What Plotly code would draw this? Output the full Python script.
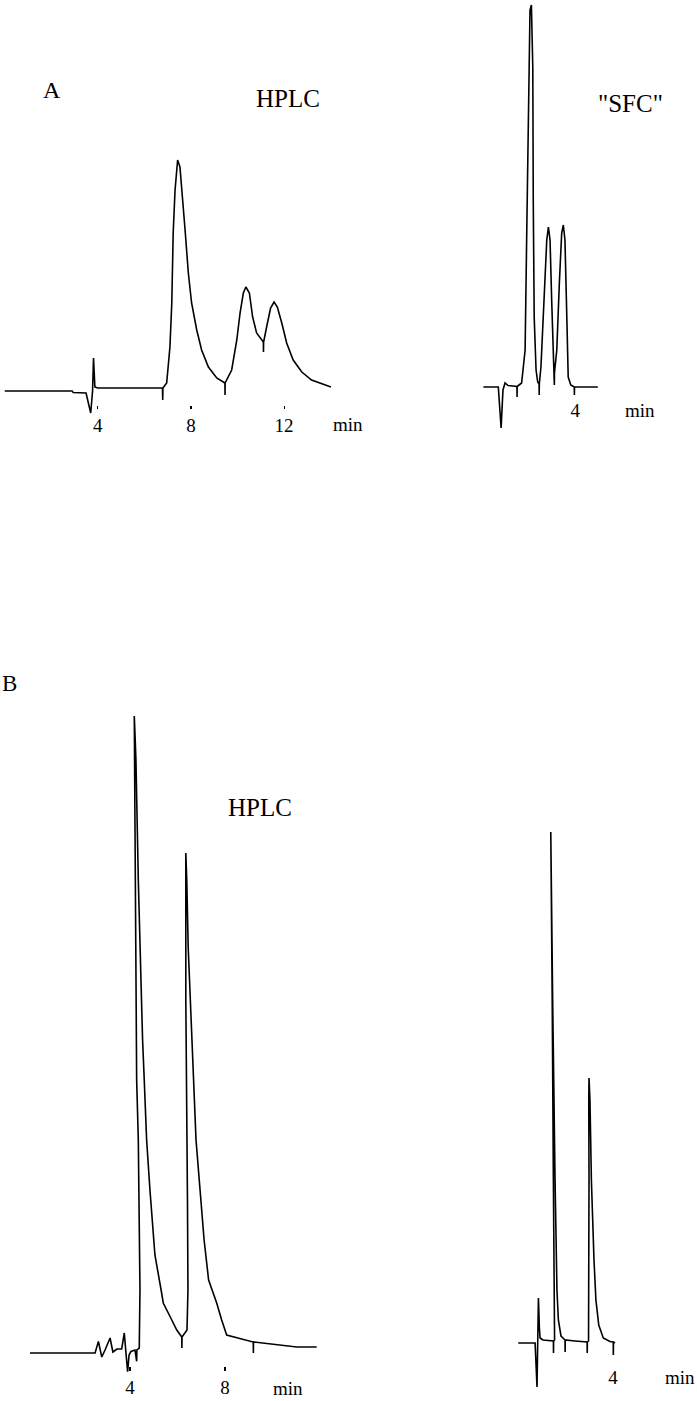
import plotly.graph_objects as go

# ---------------- data (time in min, detector signal in arbitrary units) ----------------
a_hplc_t = [0.00, 2.90, 2.95, 3.50, 3.70, 3.78, 3.82, 3.88, 4.00, 6.78, 6.79, 6.80,
            6.96, 7.10, 7.18, 7.24, 7.32, 7.43, 7.53, 7.65, 7.75, 7.89, 8.03, 8.25, 8.46,
            8.75, 9.11, 9.46, 9.465, 9.47, 9.75, 9.97, 10.11, 10.25, 10.36, 10.51, 10.65,
            10.82, 11.11, 11.115, 11.12, 11.25, 11.42, 11.57, 11.71, 11.90, 12.11, 12.39,
            12.76, 13.18, 13.61, 14.01]
a_hplc_s = [-2, -2, -3.5, -4, -24, -2, 31, 2, 1, 1, -11, 1,
            6, 42, 86, 156, 199, 229, 222, 192, 159, 116, 86, 59, 39,
            22, 11, 6, -6, 6, 19, 49, 76, 96, 102, 96, 72,
            56, 47, 37, 47, 62, 81, 87, 82, 66, 46, 29,
            17, 9, 5, 2]

a_sfc_t = [0.06, 0.70, 0.82, 0.90, 0.99, 1.12, 1.50, 1.505, 1.51, 1.70, 1.85, 1.92, 1.99,
           2.06, 2.12, 2.18, 2.20, 2.24, 2.32, 2.39, 2.45, 2.455, 2.46, 2.53, 2.66, 2.78,
           2.85, 2.92, 2.99, 3.06, 3.10, 3.105, 3.11, 3.21, 3.32, 3.42, 3.49, 3.56, 3.64,
           3.70, 3.81, 3.96, 3.965, 3.97, 4.97]
a_sfc_s = [0, 0, -41, -3, 4, 1.5, 0.5, -10, 0.5, 4, 37, 154, 287,
           377, 382, 320, 187, 70, 17, 5, 3, -8, 3, 20, 87, 147,
           160, 147, 87, 27, 14, 2, 14, 37, 104, 154, 162, 147, 70,
           10, 2, 0, -8, 0, 0]

b_hplc_t = [-0.21, 2.53, 2.67, 2.81, 2.95, 3.16, 3.28, 3.45, 3.65, 3.76, 3.83, 3.90, 3.96,
            4.04, 4.21, 4.28, 4.29, 4.39, 4.42, 4.40, 4.35, 4.28, 4.21, 4.18,
            4.22, 4.25, 4.35, 4.45, 4.53, 4.60, 4.70, 4.84, 5.05, 5.31, 5.40, 5.76, 5.97,
            6.18, 6.185, 6.19, 6.40, 6.44, 6.42, 6.39, 6.35, 6.35,
            6.39, 6.45, 6.56, 6.67, 6.78, 6.95, 7.12, 7.31, 7.65, 7.86, 8.07, 9.19, 9.195,
            9.20, 11.02, 11.86]
b_hplc_s = [0, 0, 11.6, -4, 3, 15, 1, 4, 4, 20, 0, -18.7, -2,
            1.5, 3, -8.3, 3, 5, 63, 138, 213, 273, 473, 637,
            613, 593, 473, 373, 313, 273, 213, 163, 98, 63, 50, 33, 23,
            16, 5, 16, 23, 63, 153, 213, 353, 500,
            473, 406, 340, 273, 213, 163, 113, 73, 50, 33, 18, 11, 0,
            11, 6, 6]

b_sfc_t = [0.01, 0.72, 0.80, 0.86, 0.90, 0.93, 1.05, 1.49, 1.495, 1.50,
           1.54, 1.52, 1.49, 1.44, 1.39, 1.38, 1.41, 1.46, 1.56, 1.64, 1.70, 1.81,
           1.98, 1.985, 1.99, 2.40, 2.91, 2.915, 2.92, 2.97, 2.99, 2.99, 2.98, 2.99,
           3.03, 3.09, 3.20, 3.28, 3.40, 3.59, 3.87, 4.01, 4.015, 4.02, 4.08]
b_sfc_s = [0, 0, -44, 45, 15, 5, 3, 2, -10, 2,
           3, 53, 163, 343, 463, 511, 483, 343, 163, 53, 23, 7,
           3, -9, 3, 2, 1, -10, 1, 2, 73, 163, 243, 265,
           243, 163, 83, 43, 18, 5, 1.5, 1, -12, 1, 0]

hplc_a_ticks = [4, 8, 12]
hplc_b_ticks = [4, 8]
sfc_ticks = [4]

# ---------------- layout helpers (pixel geometry of the page) ----------------
W, H = 697, 1401


def xdom(p0, p1):
    return [p0 / W, p1 / W]


def ydom(top, bottom):
    return [1 - bottom / H, 1 - top / H]


def ypos(p):
    return 1 - p / H


serif = "Liberation Serif, Times New Roman, serif"
line = dict(color="black", width=1.6)

fig = go.Figure()
fig.add_trace(go.Scatter(x=a_hplc_t, y=a_hplc_s, mode="lines", line=line, xaxis="x", yaxis="y"))
fig.add_trace(go.Scatter(x=a_sfc_t, y=a_sfc_s, mode="lines", line=line, xaxis="x2", yaxis="y2"))
fig.add_trace(go.Scatter(x=b_hplc_t, y=b_hplc_s, mode="lines", line=line, xaxis="x3", yaxis="y3"))
fig.add_trace(go.Scatter(x=b_sfc_t, y=b_sfc_s, mode="lines", line=line, xaxis="x4", yaxis="y4"))


def xax(rng, dom, pos, ticks, ticklen, standoff):
    return dict(range=rng, domain=dom, anchor="free", position=pos,
                showgrid=False, zeroline=False, showline=False,
                tickmode="array", tickvals=ticks, ticktext=[str(t) for t in ticks],
                ticks="outside" if ticklen > 0 else "", ticklen=ticklen, tickwidth=1.2,
                tickcolor="black", ticklabelstandoff=standoff,
                tickfont=dict(family=serif, size=19, color="black"), fixedrange=True)


def yax(rng, dom, anchor):
    return dict(range=rng, domain=dom, anchor=anchor, visible=False, fixedrange=True)


fig.update_layout(
    width=W, height=H, margin=dict(l=0, r=0, t=0, b=0),
    paper_bgcolor="white", plot_bgcolor="white", showlegend=False,
    xaxis=xax([0, 14.5], xdom(4.5, 4.5 + 23.3 * 14.5), ypos(405), hplc_a_ticks, 3, 0),
    yaxis=yax([-31, 239], ydom(150, 420), "x"),
    xaxis2=xax([0, 7.2], xdom(482, 482 + 23.3 * 7.2), ypos(397), sfc_ticks, 0, 0),
    yaxis2=yax([-53, 387], ydom(0, 440), "x2"),
    xaxis3=xax([-0.3, 12.5], xdom(35 - 23.75 * 0.3, 35 + 23.75 * 12.5), ypos(1366), hplc_b_ticks, 4, 0),
    yaxis3=yax([-27, 653], ydom(700, 1380), "x3"),
    xaxis4=xax([-0.1, 7.2], xdom(518 - 23.75 * 0.1, 518 + 23.75 * 7.2), ypos(1364), sfc_ticks, 0, 0),
    yaxis4=yax([-52, 523], ydom(820, 1395), "x4"),
)


def label(text, px, py, size):
    fig.add_annotation(text=text, x=px / W, y=ypos(py), xref="paper", yref="paper",
                       showarrow=False, xanchor="center", yanchor="middle",
                       font=dict(family=serif, size=size, color="black"))


label("A", 52, 90, 24)
label("HPLC", 288, 99, 25)
label('"SFC"', 630, 103, 25)
label("B", 9, 683, 23)
label("HPLC", 260, 808, 25)
label("min", 348, 425, 19)
label("min", 640, 410, 19)
label("min", 288, 1388, 19)
label("min", 680, 1377, 19)

fig.write_html("out.html", config={"displayModeBar": False, "staticPlot": True},
               post_script="document.body.style.margin='0px';document.body.style.overflow='hidden';")
